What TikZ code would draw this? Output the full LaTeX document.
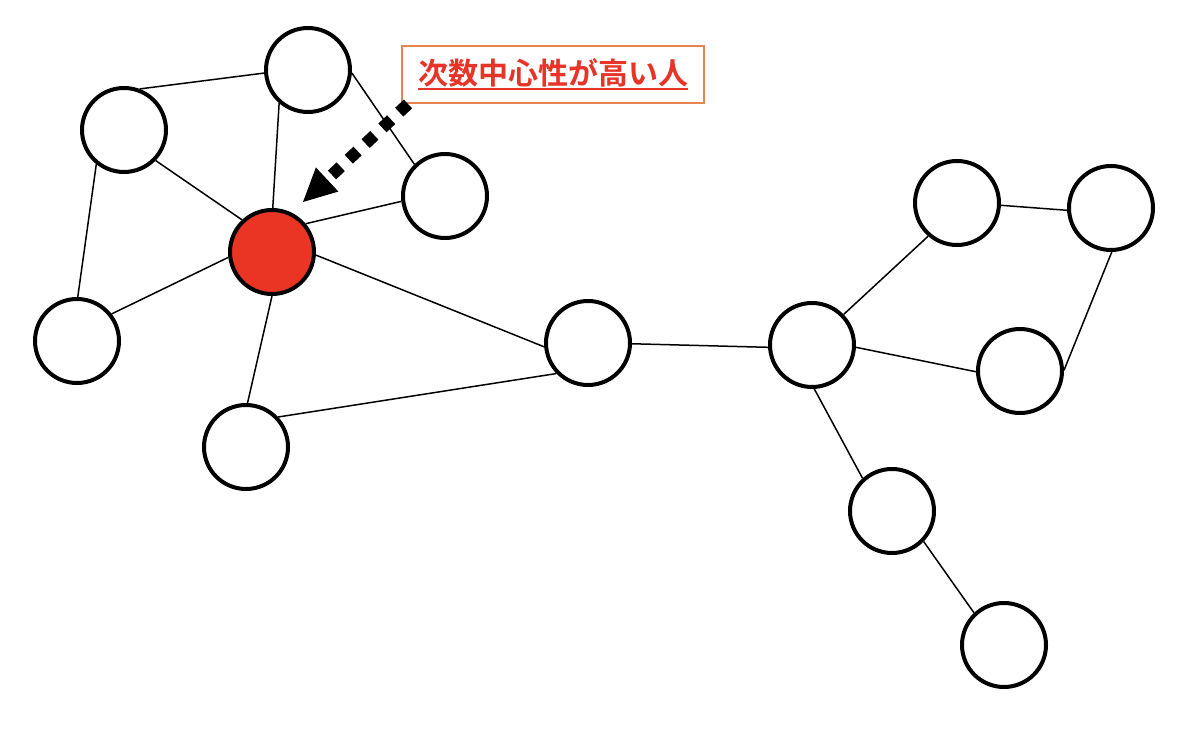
\documentclass[tikz,border=0pt]{standalone}
\usepackage{fontspec}
\newfontfamily\cjk{Noto Sans CJK JP Bold}
\usetikzlibrary{arrows.meta}
\definecolor{nodered}{RGB}{234,52,36}
\definecolor{textred}{RGB}{232,52,40}
\definecolor{boxorange}{RGB}{232,132,82}
\newcommand\redul[1]{\setbox0\hbox{#1}\rlap{\rule[-3pt]{\wd0}{1.3pt}}\box0}
\begin{document}
\begin{tikzpicture}[x=0.5pt,y=-0.5pt,
  person/.style={circle,draw=black,line width=2pt,fill=white,minimum size=42pt,inner sep=0pt},
  central/.style={person,fill=nodered},
  link/.style={line width=0.75pt,draw=black},
  labelbox/.style={draw=boxorange,line width=0.8pt,minimum width=151pt,minimum height=28.5pt,inner sep=0pt,text=textred,font=\cjk\fontsize{15pt}{15pt}\selectfont},
  pointer/.style={line width=6pt,dash pattern=on 6pt off 5.5pt,-{Triangle[length=16.5pt,width=16.5pt,line width=0pt]}}
]
\useasboundingbox (0,0) rectangle (1200,743);
\fill[white] (0,0) rectangle (1200,743);
% nodes
\node[person] (A) at (308,70) {};
\node[person] (B) at (124,130) {};
\node[person] (C) at (445,196) {};
\node[central] (R) at (272,252) {};
\node[person] (D) at (77,341) {};
\node[person] (E) at (246,447) {};
\node[person] (F) at (588,343) {};
\node[person] (G) at (812,345) {};
\node[person] (H) at (957,203) {};
\node[person] (I) at (1111,208) {};
\node[person] (J) at (1020,371) {};
\node[person] (K) at (892,511) {};
\node[person] (L) at (1004,645) {};
% edges
\draw[link] (A.184) -- (B.69);
\draw[link] (A.229) -- (R.89);
\draw[link] (A.356) -- (C.134);
\draw[link] (B.316) -- (R.133);
\draw[link] (B.231) -- (D.89);
\draw[link] (R.187) -- (D.38);
\draw[link] (R.40) -- (C.187);
\draw[link] (R.270) -- (E.88);
\draw[link] (R.356) -- (F.185);
\draw[link] (E.43) -- (F.224);
\draw[link] (F.359) -- (G.183);
\draw[link] (G.44) -- (H.229);
\draw[link] (H.357) -- (I.183);
\draw[link] (I.271) -- (J.1);
\draw[link] (G.357) -- (J.181);
\draw[link] (G.273) -- (K.132);
\draw[link] (K.316) -- (L.133);
% label
\node[labelbox] (lab) at (553,74.5) {\redul{次数中心性が高い人}};
\coordinate (start) at (408,104);
\coordinate (tip) at (303,202);
\draw[pointer] (start) -- (tip);
\end{tikzpicture}
\end{document}
